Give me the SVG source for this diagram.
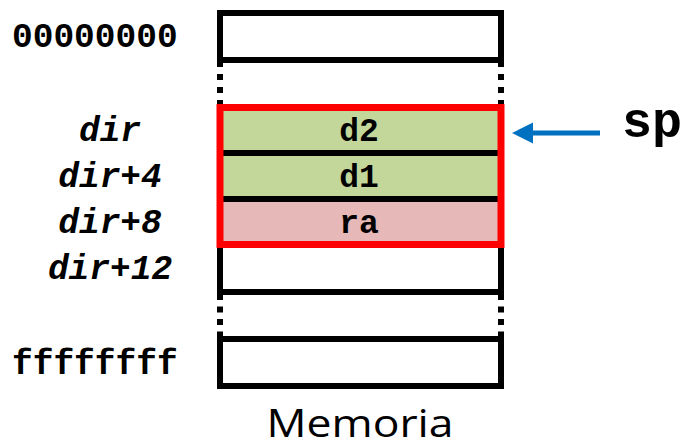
<svg xmlns="http://www.w3.org/2000/svg" width="684" height="448" viewBox="0 0 684 448">
  <style>
    .cell { stroke: #000; stroke-width: 6; }
    .side { stroke: #000; stroke-width: 6; fill: none; }
    .dots { stroke: #000; stroke-width: 6; fill: none; }
    .addr { font-family: "Liberation Mono", "Courier New", monospace; font-weight: bold; font-size: 34.5px; fill: #000; }
    .off  { font-style: italic; text-anchor: middle; }
    .val  { font-family: "Liberation Mono", "Courier New", monospace; font-weight: bold; font-size: 33px; fill: #000; text-anchor: middle; }
    .frame { fill: none; stroke: #FF0000; stroke-width: 7; }
    .title { font-family: "Open Sans", "Noto Sans", sans-serif; font-size: 39px; fill: #000; text-anchor: middle; }
  </style>
  <defs>
    <marker id="head" viewBox="0 0 10 10" refX="0" refY="5" markerWidth="4.2" markerHeight="4.4" orient="auto" markerUnits="strokeWidth">
      <path d="M0,0 L10,5 L0,10 Z" fill="#0070C0"/>
    </marker>
  </defs>

  <rect width="684" height="448" fill="#fff"/>

  <!-- dotted gaps between memory regions -->
  <g id="gaps">
    <line class="dots" x1="220" y1="61" x2="220" y2="108" stroke-dasharray="6 7"/>
    <line class="dots" x1="501" y1="61" x2="501" y2="108" stroke-dasharray="6 7"/>
    <line class="dots" x1="220" y1="294" x2="220" y2="340" stroke-dasharray="6 6.5"/>
    <line class="dots" x1="501" y1="294" x2="501" y2="340" stroke-dasharray="6 6.5"/>
  </g>

  <!-- first word of memory -->
  <g id="cell-top">
    <rect class="cell" x="220" y="13" width="281" height="47" fill="#fff"/>
    <text class="addr" x="12" y="47">00000000</text>
  </g>

  <!-- stack frame words -->
  <g id="cell-d2">
    <rect x="220" y="107" width="281" height="46" fill="#C4D79B"/>
    <text class="val" x="359" y="141">d2</text>
    <text class="addr off" x="110" y="141">dir</text>
  </g>
  <g id="cell-d1">
    <rect x="220" y="153" width="281" height="46" fill="#C4D79B"/>
    <line class="side" x1="220" y1="153" x2="501" y2="153"/>
    <text class="val" x="359" y="187">d1</text>
    <text class="addr off" x="110" y="187">dir+4</text>
  </g>
  <g id="cell-ra">
    <rect x="220" y="199" width="281" height="45" fill="#E6B9B8"/>
    <line class="side" x1="220" y1="199" x2="501" y2="199"/>
    <text class="val" x="359" y="233">ra</text>
    <text class="addr off" x="110" y="233">dir+8</text>
  </g>
  <g id="cell-dir12">
    <path class="side" d="M220,244 V292 H501 V244"/>
    <text class="addr off" x="110" y="279">dir+12</text>
  </g>

  <!-- stack frame outline -->
  <g id="frame">
    <rect class="frame" x="220" y="107.5" width="281" height="137"/>
  </g>

  <!-- last word of memory -->
  <g id="cell-bottom">
    <rect class="cell" x="220" y="339" width="281" height="47" fill="#fff"/>
    <text class="addr" x="12" y="374">ffffffff</text>
  </g>

  <g id="sp">
    <text class="addr" x="622" y="137" style="font-size:50px">sp</text>
  </g>

  <g id="connectors">
    <line x1="600" y1="133" x2="533" y2="133" stroke="#0070C0" stroke-width="5" marker-end="url(#head)"/>
  </g>

  <g id="caption">
    <text class="title" x="360" y="437" textLength="187" lengthAdjust="spacingAndGlyphs">Memoria</text>
  </g>
</svg>
